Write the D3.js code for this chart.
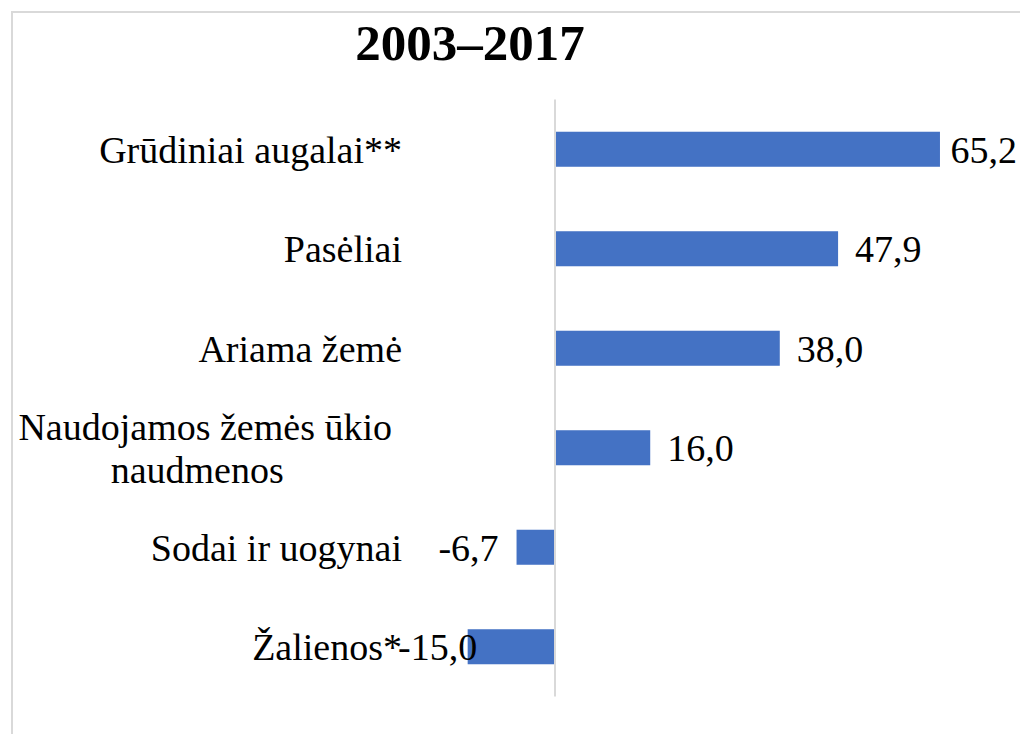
<!DOCTYPE html>
<html>
<head>
<meta charset="utf-8">
<script src="https://cdn.jsdelivr.net/npm/d3@7"></script>
<style>
  body { margin: 0; background: #fff; }
  svg text { font-family: "Liberation Serif", "Times New Roman", serif; fill: #000; }
</style>
</head>
<body>
<svg class="svg-canvas" width="1020" height="734"></svg>
<script>
// chart data
const title = "2003–2017";
const categories = [
  ["Grūdiniai augalai**"],
  ["Pasėliai"],
  ["Ariama žemė"],
  ["Naudojamos žemės ūkio", "naudmenos"],
  ["Sodai ir uogynai"],
  ["Žalienos*"]
];
const values = [65.2, 47.9, 38.0, 16.0, -6.7, -15.0];
const xDomain = [-20, 70];

const svg = d3.select(".svg-canvas");
const width = 1020, height = 734;

// frame of the chart area (only left/top edges visible)
svg.append("path")
  .attr("d", `M12,${height} V12 H${width}`)
  .attr("fill", "none")
  .attr("stroke", "#d9d9d9")
  .attr("stroke-width", 2);

// title
svg.append("text")
  .attr("x", 470)
  .attr("y", 60)
  .attr("text-anchor", "middle")
  .attr("font-weight", "bold")
  .attr("font-size", 51)
  .text(title);

const fontSize = 38;
const plotLeft = 398, plotRight = 1017;

const x = d3.scaleLinear()
  .domain(xDomain)
  .range([556 - 20 * 5.889, 556 + 70 * 5.889]);

const y = d3.scaleBand()
  .domain(d3.range(categories.length))
  .range([99.5, 696.5])
  .paddingInner(0.648)
  .paddingOuter(0.324);

const graph = svg.append("g");

// bars
graph.selectAll("rect.bar")
  .data(values)
  .enter()
  .append("rect")
  .attr("class", "bar")
  .attr("x", d => x(Math.min(0, d)))
  .attr("y", (d, i) => y(i))
  .attr("width", d => Math.abs(x(d) - x(0)))
  .attr("height", y.bandwidth())
  .attr("fill", "#4472C4");

// vertical axis line at zero
graph.append("line")
  .attr("x1", x(0) - 1).attr("x2", x(0) - 1)
  .attr("y1", y.range()[0]).attr("y2", y.range()[1])
  .attr("stroke", "#d9d9d9")
  .attr("stroke-width", 2);

// category labels
const labelRight = 402;
categories.forEach((lines, i) => {
  const cy = y(i) + y.bandwidth() / 2;
  if (lines.length === 1) {
    graph.append("text")
      .attr("x", labelRight)
      .attr("y", cy)
      .attr("dy", "0.35em")
      .attr("text-anchor", "end")
      .attr("font-size", fontSize)
      .text(lines[0]);
  } else {
    const lh = 43;
    const first = graph.append("text")
      .attr("font-size", fontSize)
      .attr("text-anchor", "end")
      .attr("x", labelRight - 10)
      .attr("y", cy - lh * (lines.length - 1) / 2)
      .attr("dy", "0.35em")
      .text(lines[0]);
    const w = first.node().getComputedTextLength();
    const mid = labelRight - 10 - w / 2;
    lines.slice(1).forEach((t, j) => {
      graph.append("text")
        .attr("font-size", fontSize)
        .attr("text-anchor", "middle")
        .attr("x", mid - 8)
        .attr("y", cy - lh * (lines.length - 1) / 2 + lh * (j + 1))
        .attr("dy", "0.35em")
        .text(t);
    });
  }
});

// value labels
const fmt = v => v.toFixed(1).replace(".", ",");
values.forEach((v, i) => {
  const cy = y(i) + y.bandwidth() / 2;
  const t = graph.append("text")
    .attr("font-size", fontSize)
    .attr("y", cy)
    .attr("dy", "0.35em")
    .text(fmt(v));
  const w = t.node().getComputedTextLength();
  let start;
  if (v >= 0) {
    start = Math.min(x(v) + 17, plotRight - w);
  } else {
    start = Math.max(plotLeft, x(v) - 18 - w);
  }
  t.attr("x", start);
});
</script>
</body>
</html>
